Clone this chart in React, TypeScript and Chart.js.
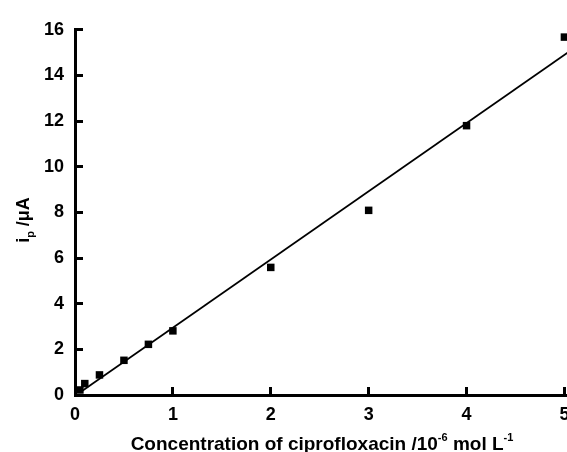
import React, { useEffect, useRef } from 'react';
import { Chart, registerables } from 'chart.js';

Chart.register(...registerables);

// Data
const CONC = [0.05, 0.1, 0.25, 0.5, 0.75, 1, 2, 3, 4, 5];
const CURRENT = [0.22, 0.5, 0.88, 1.52, 2.22, 2.81, 5.59, 8.09, 11.8, 15.68];
const FIT_X = [0.05, 5.2];
const FIT_Y = [0.11, 15.5];
const X_TICKS = [0, 1, 2, 3, 4, 5];
const Y_TICKS = [0, 2, 4, 6, 8, 10, 12, 14, 16];

const FAMILY = '"Liberation Sans", Arial, Helvetica, sans-serif';

const titlePlugin = {
  id: 'sketchTitles',
  afterDraw(chart: any) {
    const ctx: CanvasRenderingContext2D = chart.ctx;
    ctx.save();
    ctx.fillStyle = '#000';
    ctx.textBaseline = 'alphabetic';
    ctx.textAlign = 'left';

    // X axis title with superscripts
    const big = `bold 19px ${FAMILY}`;
    const small = `bold 11px ${FAMILY}`;
    const xRuns = [
      { t: 'Concentration of ciprofloxacin /10', s: 0 },
      { t: '-6', s: 1 },
      { t: ' mol L', s: 0 },
      { t: '-1', s: 1 },
    ];
    let total = 0;
    for (const r of xRuns) {
      ctx.font = r.s ? small : big;
      total += ctx.measureText(r.t).width;
    }
    let x = 322 - total / 2;
    const base = 450;
    for (const r of xRuns) {
      ctx.font = r.s ? small : big;
      ctx.fillText(r.t, x, r.s ? base - 9 : base);
      x += ctx.measureText(r.t).width;
    }

    // Y axis title (rotated) with subscript
    const yBig = `bold 18px ${FAMILY}`;
    const ySmall = `bold 11px ${FAMILY}`;
    const yRuns = [
      { t: 'i', s: 0 },
      { t: 'p', s: 1 },
      { t: ' /\u03bcA', s: 0 },
    ];
    ctx.translate(29, 220);
    ctx.rotate(-Math.PI / 2);
    total = 0;
    for (const r of yRuns) {
      ctx.font = r.s ? ySmall : yBig;
      total += ctx.measureText(r.t).width;
    }
    x = -total / 2;
    for (const r of yRuns) {
      ctx.font = r.s ? ySmall : yBig;
      ctx.fillText(r.t, x, r.s ? 5 : 0);
      x += ctx.measureText(r.t).width;
    }
    ctx.restore();
  },
};

export default function App() {
  const ref = useRef<HTMLCanvasElement>(null);

  useEffect(() => {
    if (!ref.current) return;
    Chart.defaults.font.family = FAMILY;
    const tickFont = { size: 18, weight: 'bold' as const, family: FAMILY };
    const chart = new Chart(ref.current, {
      type: 'scatter',
      data: {
        datasets: [
          {
            type: 'line',
            label: 'fit',
            data: FIT_X.map((v, i) => ({ x: v, y: FIT_Y[i] })),
            borderColor: '#000',
            borderWidth: 1.7,
            pointRadius: 0,
            fill: false,
            clip: false as any,
          },
          {
            type: 'scatter',
            label: 'ip',
            data: CONC.map((v, i) => ({ x: v, y: CURRENT[i] })),
            pointStyle: 'rect',
            pointRadius: 5.3,
            pointBorderWidth: 0,
            backgroundColor: '#000',
            borderColor: '#000',
            clip: false as any,
          },
        ],
      },
      options: {
        animation: false,
        responsive: false,
        devicePixelRatio: 1,
        layout: { padding: { top: 24, right: 16, left: 0, bottom: 0 } },
        plugins: {
          legend: { display: false },
          tooltip: { enabled: false },
        },
        scales: {
          x: {
            type: 'linear',
            min: 0,
            max: 5.2,
            afterBuildTicks: (s: any) => {
              s.ticks = X_TICKS.map((v) => ({ value: v }));
            },
            afterFit: (s: any) => {
              s.height = 57;
            },
            grid: {
              drawOnChartArea: false,
              drawTicks: true,
              tickLength: -8,
              tickWidth: 3,
              color: '#000',
            },
            border: { color: '#000', width: 3 },
            ticks: {
              color: '#000',
              font: tickFont,
              padding: 17,
              maxRotation: 0,
              autoSkip: false,
            },
          },
          y: {
            type: 'linear',
            min: 0,
            max: 16,
            afterBuildTicks: (s: any) => {
              s.ticks = Y_TICKS.map((v) => ({ value: v }));
            },
            afterFit: (s: any) => {
              s.width = 75;
            },
            grid: {
              drawOnChartArea: false,
              drawTicks: true,
              tickLength: -8,
              tickWidth: 3,
              color: '#000',
            },
            border: { color: '#000', width: 3 },
            ticks: {
              color: '#000',
              font: tickFont,
              padding: 19,
              autoSkip: false,
            },
          },
        },
      },
      plugins: [titlePlugin],
    } as any);
    return () => chart.destroy();
  }, []);

  return (
    <div
      style={{
        position: 'fixed',
        left: 0,
        top: 0,
        width: 567,
        height: 452,
        overflow: 'hidden',
        background: '#fff',
      }}
    >
      <canvas ref={ref} width={600} height={452} style={{ display: 'block' }} />
    </div>
  );
}
